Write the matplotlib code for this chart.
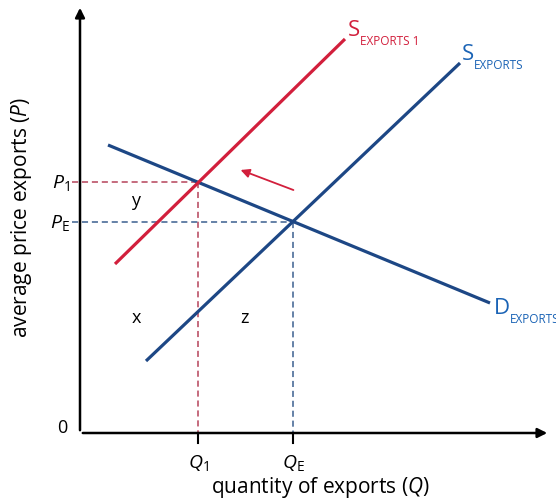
import numpy as np
import matplotlib.pyplot as plt

plt.rcParams['font.family'] = ['Open Sans', 'DejaVu Sans']
plt.rcParams['mathtext.fontset'] = 'custom'
plt.rcParams['mathtext.rm'] = 'Open Sans'
plt.rcParams['mathtext.it'] = 'Open Sans:italic'

# curve endpoints in quantity / price units
demand_q = [0.7, 10.25]
demand_p = [7.2, 3.25]
supply_q = [1.65, 9.5]
supply_p = [1.8, 9.25]
supply1_q = [0.875, 6.625]
supply1_p = [4.225, 9.85]

BLUE = '#1d4785'
LABEL_BLUE = '#1a63b5'
RED = '#d21f3c'
DASH_RED = '#b5435a'
DASH_BLUE = '#3b5f8f'


def line_coef(q, p):
    m = (p[1] - p[0]) / (q[1] - q[0])
    return m, p[0] - m * q[0]


def crossing(a, b):
    m1, c1 = a
    m2, c2 = b
    q = (c2 - c1) / (m1 - m2)
    return q, m1 * q + c1


d = line_coef(demand_q, demand_p)
qe, pe = crossing(d, line_coef(supply_q, supply_p))
q1, p1 = crossing(d, line_coef(supply1_q, supply1_p))

fig = plt.figure(figsize=(5.56, 5.02), dpi=100)
ax = fig.add_axes([0, 0, 1, 1])
ax.set_xlim(-2, 11.9)
ax.set_ylim(-1.7, 10.85)
ax.axis('off')

# axes with arrowheads
ax.annotate('', xy=(11.75, 0), xytext=(0, 0),
            arrowprops=dict(arrowstyle='-|>', color='black', lw=1.8, mutation_scale=14))
ax.annotate('', xy=(0, 10.7), xytext=(0, 0),
            arrowprops=dict(arrowstyle='-|>', color='black', lw=1.8, mutation_scale=14))

# dashed guides
ax.plot([-0.2, q1], [p1, p1], ls=(0, (4, 2.5)), color=DASH_RED, lw=1.1)
ax.plot([q1, q1], [p1, -0.25], ls=(0, (4, 2.5)), color=DASH_RED, lw=1.1)
ax.plot([-0.2, qe], [pe, pe], ls=(0, (4, 2.5)), color=DASH_BLUE, lw=1.1)
ax.plot([qe, qe], [pe, -0.25], ls=(0, (4, 2.5)), color=DASH_BLUE, lw=1.1)
ax.plot([q1, q1], [0, -0.25], color='black', lw=1.5)
ax.plot([qe, qe], [0, -0.25], color='black', lw=1.5)

# curves
ax.plot(demand_q, demand_p, color=BLUE, lw=2.3, solid_capstyle='butt')
ax.plot(supply_q, supply_p, color=BLUE, lw=2.3, solid_capstyle='butt')
ax.plot(supply1_q, supply1_p, color=RED, lw=2.3, solid_capstyle='butt')

# shift arrow
ax.annotate('', xy=(3.95, 6.6), xytext=(5.4, 6.05),
            arrowprops=dict(arrowstyle='-|>', color=RED, lw=1.3, mutation_scale=13))

# curve labels
ax.text(6.7, 9.95, 'S', color=RED, fontsize=16, ha='left', va='baseline')
ax.text(7.0, 9.72, 'EXPORTS 1', color=RED, fontsize=8.5, ha='left', va='baseline')
ax.text(9.55, 9.35, 'S', color=LABEL_BLUE, fontsize=16, ha='left', va='baseline')
ax.text(9.85, 9.12, 'EXPORTS', color=LABEL_BLUE, fontsize=8.5, ha='left', va='baseline')
ax.text(10.35, 3.0, 'D', color=LABEL_BLUE, fontsize=16, ha='left', va='baseline')
ax.text(10.75, 2.77, 'EXPORTS', color=LABEL_BLUE, fontsize=8.5, ha='left', va='baseline')

# price / quantity labels
ax.text(-0.25, p1, r'$P_{\mathrm{1}}$', fontsize=14, ha='right', va='center')
ax.text(-0.25, pe, r'$P_{\mathrm{E}}$', fontsize=14, ha='right', va='center')
ax.text(q1, -0.72, r'$Q_{\mathrm{1}}$', fontsize=14, ha='center', va='center')
ax.text(qe, -0.72, r'$Q_{\mathrm{E}}$', fontsize=14, ha='center', va='center')
ax.text(-0.45, 0.15, '0', fontsize=13, ha='center', va='center')

# area labels
ax.text(1.4, 5.82, 'y', fontsize=13, ha='center', va='center')
ax.text(1.4, 2.9, 'x', fontsize=13, ha='center', va='center')
ax.text(4.12, 2.9, 'z', fontsize=13, ha='center', va='center')

# axis titles
ax.text(6.0, -1.35, r'quantity of exports ($\mathit{Q}$)', fontsize=15,
        ha='center', va='center')
ax.text(-1.45, 5.4, r'average price exports ($\mathit{P}$)', fontsize=15,
        rotation=90, ha='center', va='center')

fig.savefig('out.png', dpi=100)
